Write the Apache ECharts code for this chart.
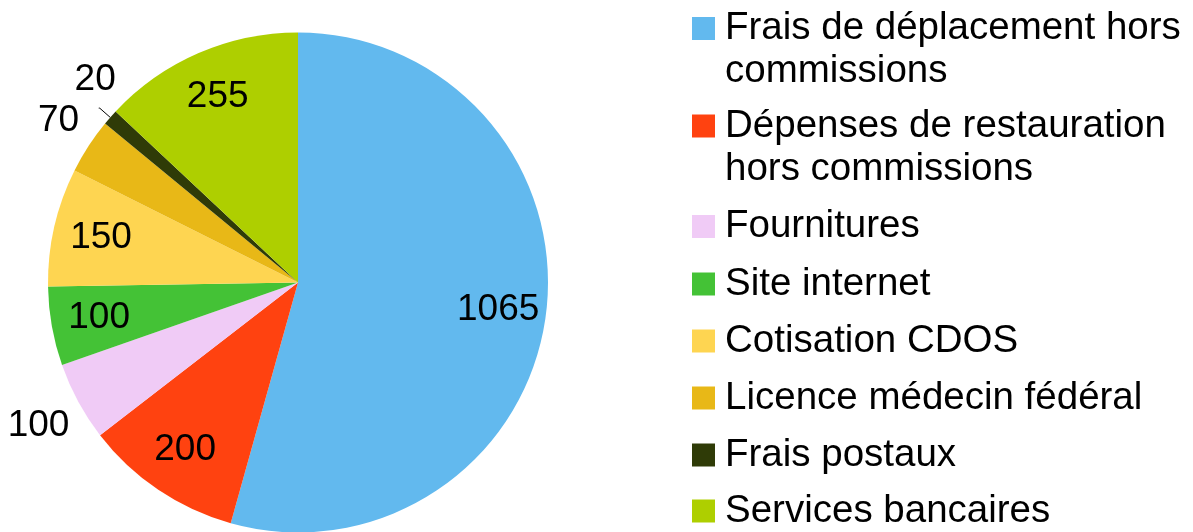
<!DOCTYPE html>
<html>
<head>
<meta charset="utf-8">
<script src="https://cdn.jsdelivr.net/npm/echarts@6/dist/echarts.min.js"></script>
<style>
html, body { margin: 0; padding: 0; background: #fff; }
#depenses { width: 1193px; height: 532px; }
</style>
</head>
<body>
<div id="depenses"></div>
<script>
// categories and values
const categories = [
    'Frais de déplacement hors commissions',
    'Dépenses de restauration hors commissions',
    'Fournitures',
    'Site internet',
    'Cotisation CDOS',
    'Licence médecin fédéral',
    'Frais postaux',
    'Services bancaires'
];
const values = [1065, 200, 100, 100, 150, 70, 20, 255];
// legend text as shown (line breaks)
const legendLabels = [
    'Frais de déplacement hors\ncommissions',
    'Dépenses de restauration\nhors commissions',
    'Fournitures',
    'Site internet',
    'Cotisation CDOS',
    'Licence médecin fédéral',
    'Frais postaux',
    'Services bancaires'
];

const colors = ['#62B9EE', '#FF4210', '#F0CBF6', '#44C236', '#FED551', '#E8B817', '#2F3B07', '#AECF00'];
const font = 'Liberation Sans, Arial, sans-serif';

// labels outside the pie: small slices
const outsideLabels = {
    2: { length: 51, distance: -37, line: false },
    5: { length: 47, distance: -31, line: false },
    6: { length: 14, distance: -17, line: true, lift: -28 }
};

const chart = echarts.init(document.getElementById('depenses'));

// one legend per item; wrapped ones get an empty first line so the square
// stays level with the first text line
const legendTops = [-36, 61.5, 205, 262.5, 319.5, 376.5, 433.5, 489.5];
const legends = categories.map((name, i) => {
    const wrapped = legendLabels[i].indexOf('\n') >= 0;
    return {
        data: [name],
        orient: 'vertical',
        left: 692,
        top: legendTops[i],
        padding: 0,
        icon: 'rect',
        itemWidth: 23,
        itemHeight: 23,
        selectedMode: false,
        formatter: () => (wrapped ? ' \n' : '') + legendLabels[i],
        textStyle: {
            fontFamily: font,
            fontSize: 38.5,
            lineHeight: 43,
            color: '#000',
            padding: [0, 0, 0, 5]
        }
    };
});

const sliceData = categories.map((name, i) => ({
    name: name,
    value: values[i],
    itemStyle: { color: colors[i] }
}));

const labelData = categories.map((name, i) => {
    const o = outsideLabels[i];
    if (!o) {
        return { name: name, value: values[i] };
    }
    return {
        name: name,
        value: values[i],
        label: { position: 'outside', distanceToLabelLine: o.distance },
        labelLine: { show: o.line, length: o.length, length2: 1, lineStyle: { color: '#000', width: 1 } }
    };
});

const option = {
    backgroundColor: '#fff',
    animation: false,
    legend: legends,
    series: [{
        // the slices
        type: 'pie',
        center: [298, 282.5],
        radius: [0, 250],
        startAngle: 90,
        clockwise: true,
        silent: true,
        label: { show: false },
        labelLine: { show: false },
        itemStyle: { borderWidth: 0 },
        data: sliceData
    }, {
        // labels only (transparent ring so the inner labels sit near the edge)
        type: 'pie',
        center: [298, 282.5],
        radius: [148, 250],
        startAngle: 90,
        clockwise: true,
        silent: true,
        avoidLabelOverlap: false,
        labelLayout: function (params) {
            const o = outsideLabels[params.dataIndex];
            if (o && o.lift) {
                return { dy: o.lift, hideOverlap: false };
            }
            return { hideOverlap: false };
        },
        itemStyle: { color: 'rgba(0,0,0,0)', borderWidth: 0 },
        label: {
            show: true,
            position: 'inside',
            formatter: '{c}',
            fontFamily: font,
            fontSize: 37,
            color: '#000'
        },
        labelLine: { show: false },
        data: labelData
    }]
};

chart.setOption(option);
</script>
</body>
</html>
